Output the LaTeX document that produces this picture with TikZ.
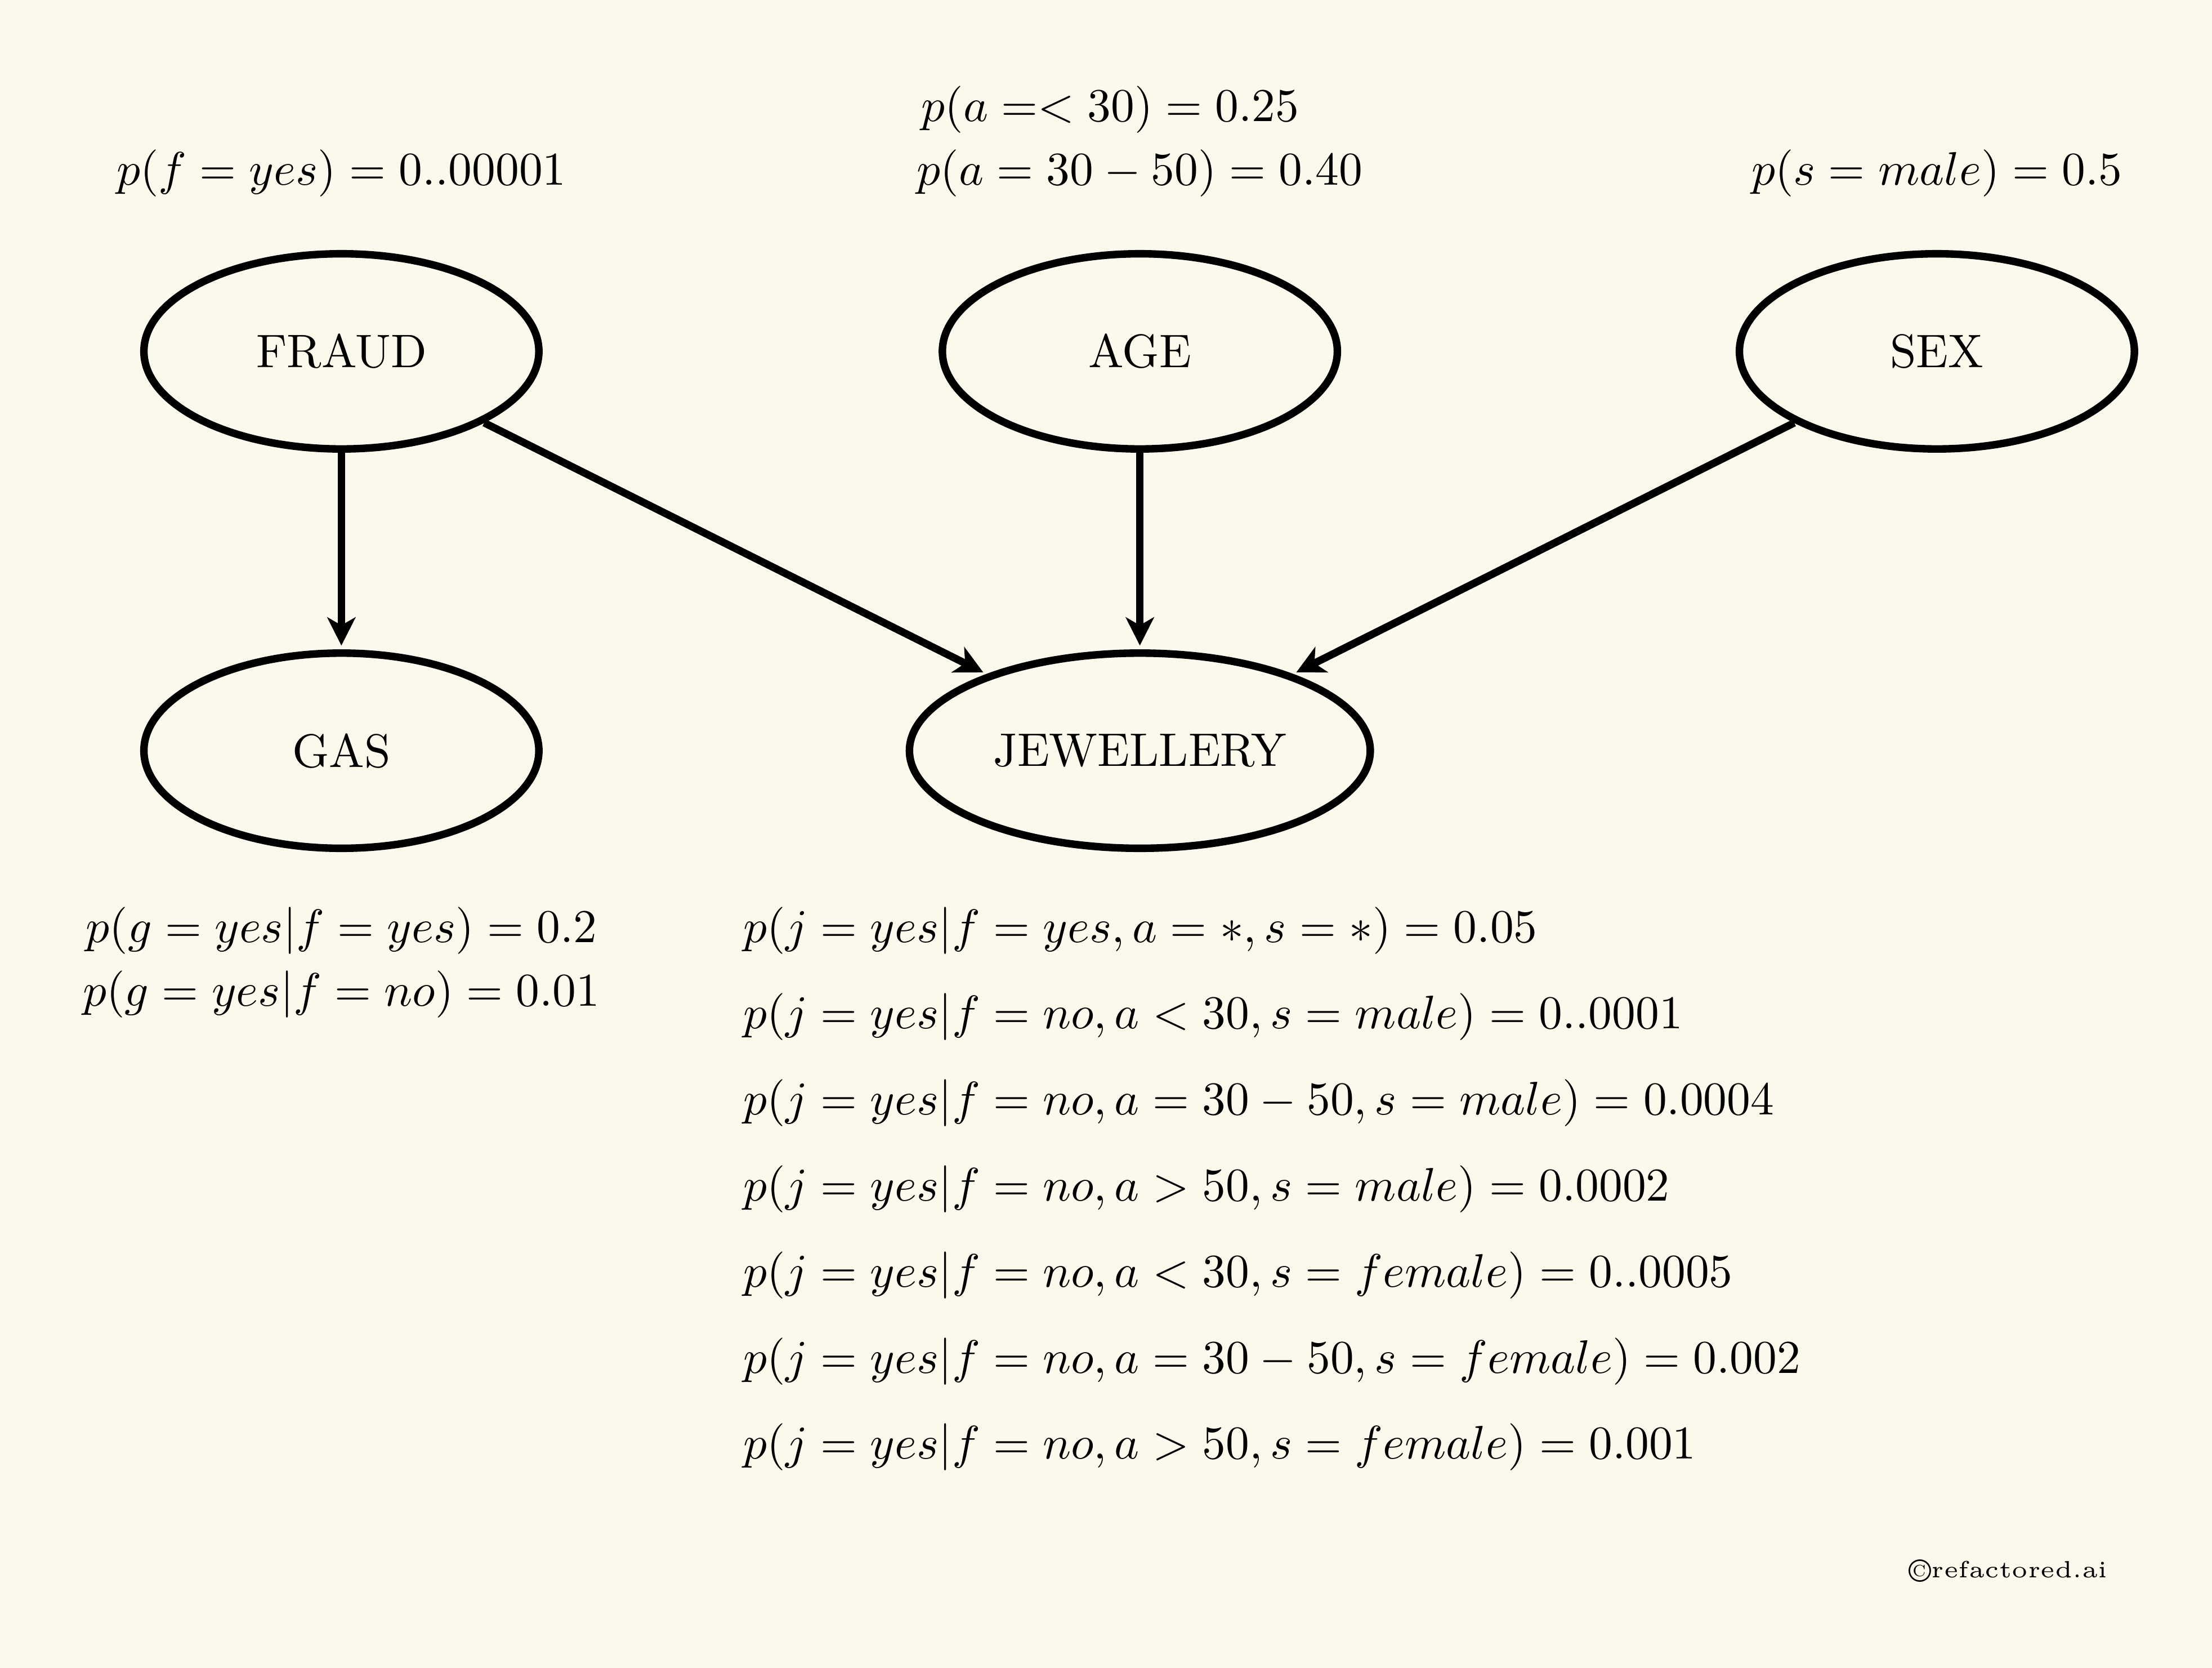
\documentclass[tikz,border=0pt]{standalone}
\usepackage{tikz}
\usetikzlibrary{shapes.geometric}
\usetikzlibrary{arrows.meta}
\usepackage{amssymb}
\usepackage{amsfonts}
\usepackage{mathtools}
\usepackage{xcolor}

\begin{document}
\begin{tikzpicture}[x=0.3pt,y=0.3pt,yscale=-1,xscale=1,
  state/.style={ellipse, draw, line width=1.6pt, inner sep=0pt, minimum width=84pt, minimum height=41.5pt},
  widestate/.style={state, minimum width=98pt},
  prob/.style={anchor=base, inner sep=0.75pt},
  cpd/.style={anchor=base west, inner sep=0.75pt},
  link/.style={line width=1.6pt, shorten >=0.8pt, -{Stealth[length=6pt, width=6pt, inset=1.7pt]}}]
%set diagram left start at 0, and has height of 1182
\useasboundingbox (0,0) rectangle (1568,1182);
\fill [color={rgb, 255:red, 251; green, 249; blue, 236 }] (0,0) rectangle (1568,1182);

%Shape: Ellipse
\node [state] (fraud) at (242,249) {FRAUD};
%Shape: Ellipse
\node [state] (age) at (808,249) {AGE};
%Shape: Ellipse
\node [state] (sex) at (1373,249) {SEX};
%Shape: Ellipse
\node [state] (gas) at (242,532) {GAS};
%Shape: Ellipse
\node [widestate] (jewel) at (808,532) {JEWELLERY};

%Straight Lines
\draw [link] (fraud) -- (gas);
\draw [link] (fraud) -- (jewel);
\draw [link] (age) -- (jewel);
\draw [link] (sex) -- (jewel);

% Text Node
\node [prob] (pfraud) at (242,131) {$p(f = yes) = 0..00001$};
% Text Node
\node [prob] (pageA) at (787,86) {$p(a =< 30) = 0.25$};
% Text Node
\node [prob] (pageB) at (808,131) {$p(a = 30 - 50) = 0.40$};
% Text Node
\node [prob] (psex) at (1373,131) {$p(s = male) = 0.5$};
% Text Node
\node [prob] (pgasA) at (242,668) {$p(g = yes|f = yes) = 0.2$};
% Text Node
\node [prob] (pgasB) at (242,713) {$p(g = yes|f = no) = 0.01$};

% Text Node
\node [cpd] (pjA) at (524,668) {$p(j = yes|f = yes, a = *, s = *) = 0.05$};
% Text Node
\node [cpd] (pjB) at (524,729) {$p(j = yes|f = no, a < 30, s = male) = 0..0001$};
% Text Node
\node [cpd] (pjC) at (524,790) {$p(j = yes|f = no, a = 30 - 50, s = male) = 0.0004$};
% Text Node
\node [cpd] (pjD) at (524,851) {$p(j = yes|f = no, a > 50, s = male) = 0.0002$};
% Text Node
\node [cpd] (pjE) at (524,912) {$p(j = yes|f = no, a < 30, s = female) = 0..0005$};
% Text Node
\node [cpd] (pjF) at (524,973) {$p(j = yes|f = no, a = 30 - 50, s = female) = 0.002$};
% Text Node
\node [cpd] (pjG) at (524,1034) {$p(j = yes|f = no, a > 50, s = female) = 0.001$};

% Text Node
\node [cpd] (credit) at (1350,1118) {{\fontsize{7}{7}\selectfont\raisebox{-1pt}{\textcopyright}}\tiny refactored.ai};

\end{tikzpicture}
\end{document}
